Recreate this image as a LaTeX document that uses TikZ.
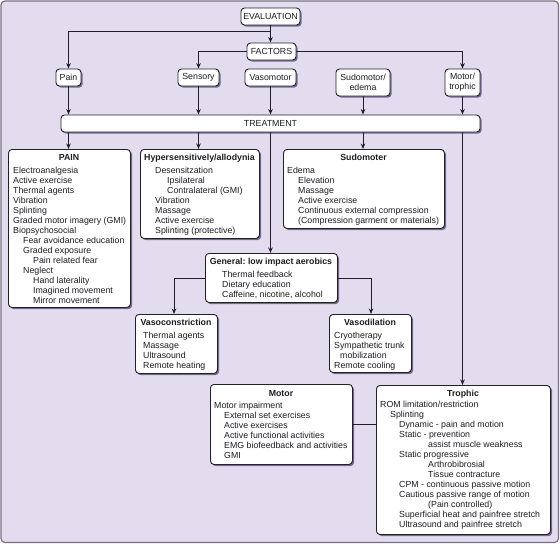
\documentclass[tikz,border=0pt]{standalone}
\usepackage{fontspec}
\setmainfont{Liberation Sans}
\usetikzlibrary{arrows.meta,shadows}
\definecolor{bg}{RGB}{227,220,238}
\definecolor{framecol}{RGB}{120,112,130}
\definecolor{boxline}{RGB}{35,32,40}
\definecolor{shade}{RGB}{118,104,148}
\definecolor{lineclr}{RGB}{35,32,40}
\definecolor{txt}{RGB}{30,28,34}
\tikzset{
  box/.style={draw=boxline, fill=white, line width=0.9pt, rounded corners=3.5pt,
    drop shadow={shadow xshift=1.6pt, shadow yshift=-1.6pt, fill=shade, opacity=1}, inner sep=0pt},
  lbl/.style={box, text=txt, font=\fontsize{8.8}{10}\selectfont, align=center},
  bigbox/.style={box, anchor=north west},
  body/.style={anchor=north west, inner sep=0pt, align=left, text=txt, font=\fontsize{8.8}{10}\selectfont},
  ttl/.style={anchor=base, inner sep=0pt, text=txt, font=\fontsize{8.8}{10}\selectfont\bfseries},
  arr/.style={draw=lineclr, line width=0.9pt, -{Stealth[length=5.5pt,width=4.5pt]}},
  ln/.style={draw=lineclr, line width=0.9pt},
}
\newcommand{\ind}[1]{\hspace*{#1pt}}
\frenchspacing
\begin{document}
\begin{tikzpicture}[x=1pt,y=-1pt]
\useasboundingbox (0,0) rectangle (560,544);
\draw[draw=framecol, fill=bg, line width=1.2pt, rounded corners=4pt] (1,1) rectangle (558.5,542.5);

% top labels
\node[lbl, minimum width=59, minimum height=17] (eval) at (270.5,16.5) {EVALUATION};
\node[lbl, minimum width=49, minimum height=17] (fac) at (271.5,51.5) {FACTORS};
\node[lbl, minimum width=25, minimum height=17] (pain) at (68.5,77.5) {Pain};
\node[lbl, minimum width=41, minimum height=17] (sens) at (198.5,77.5) {Sensory};
\node[lbl, minimum width=51, minimum height=17] (vaso) at (270.5,77.5) {Vasomotor};
\node[lbl, minimum width=54, minimum height=27] (sudo) at (363,82.5) {Sudomotor/\\edema};
\node[lbl, minimum width=35, minimum height=27] (mot) at (462.5,82.5) {Motor/\\trophic};
\node[lbl, minimum width=419, minimum height=17] (treat) at (270.5,123.5) {TREATMENT};

% big boxes
\node[bigbox, minimum width=122, minimum height=158] (painbox) at (8,149) {};
\node[bigbox, minimum width=119, minimum height=89] (hypbox) at (140,149) {};
\node[bigbox, minimum width=161, minimum height=79] (sudbox) at (283,149) {};
\node[bigbox, minimum width=132, minimum height=49] (genbox) at (205,253) {};
\node[bigbox, minimum width=82, minimum height=59] (vcbox) at (135,314) {};
\node[bigbox, minimum width=82, minimum height=58] (vdbox) at (329,314) {};
\node[bigbox, minimum width=142, minimum height=80] (motbox) at (210,384) {};
\node[bigbox, minimum width=174, minimum height=149] (trobox) at (376,385) {};

% titles
\node[ttl] (painttl) at (69,160) {PAIN};
\node[ttl] (hypttl) at (199.5,160) {Hypersensitively/allodynia};
\node[ttl] (sudttl) at (363.5,160) {Sudomoter};
\node[ttl] (genttl) at (271,264) {General: low impact aerobics};
\node[ttl] (vcttl) at (176,325) {Vasoconstriction};
\node[ttl] (vdttl) at (370,325) {Vasodilation};
\node[ttl] (motttl) at (281,396) {Motor};
\node[ttl] (trottl) at (463,396) {Trophic};

% bodies
\node[body] (paintxt) at (13,166) {\strut Electroanalgesia\\
Active exercise\\
Thermal agents\\
Vibration\\
Splinting\\
Graded motor imagery (GMI)\\
Biopsychosocial\\
\ind{10}Fear avoidance education\\
\ind{10}Graded exposure\\
\ind{20}Pain related fear\\
\ind{10}Neglect\\
\ind{20}Hand laterality\\
\ind{20}Imagined movement\\
\ind{20}Mirror movement};

\node[body] (hyptxt) at (155,166) {\strut Desensitzation\\
\ind{12}Ipsilateral\\
\ind{12}Contralateral (GMI)\\
Vibration\\
Massage\\
Active exercise\\
Splinting (protective)};

\node[body] (sudtxt) at (287,166) {\strut Edema\\
\ind{11}Elevation\\
\ind{11}Massage\\
\ind{11}Active exercise\\
\ind{11}Continuous external compression\\
\ind{11}(Compression garment or materials)};

\node[body] (gentxt) at (222,270) {\strut Thermal feedback\\
Dietary education\\
Caffeine, nicotine, alcohol};

\node[body] (vctxt) at (143,331) {\strut Thermal agents\\
Massage\\
Ultrasound\\
Remote heating};

\node[body] (vdtxt) at (334,331) {\strut Cryotherapy\\
Sympathetic trunk\\
\ind{6}mobilization\\
Remote cooling};

\node[body] (mottxt) at (214,401) {\strut Motor impairment\\
\ind{10}External set exercises\\
\ind{10}Active exercises\\
\ind{10}Active functional activities\\
\ind{10}EMG biofeedback and activities\\
\ind{10}GMI};

\node[body] (trotxt) at (380,400) {\strut ROM limitation/restriction\\
\ind{10}Splinting\\
\ind{19}Dynamic - pain and motion\\
\ind{19}Static - prevention\\
\ind{48}assist muscle weakness\\
\ind{19}Static progressive\\
\ind{48}Arthrobibrosial\\
\ind{48}Tissue contracture\\
\ind{19}CPM - continuous passive motion\\
\ind{19}Cautious passive range of motion\\
\ind{48}(Pain controlled)\\
\ind{19}Superficial heat and painfree stretch\\
\ind{19}Ultrasound and painfree stretch};

% connectors
\coordinate (j1) at (270.5,31);
\draw[ln] (eval.south) -- (j1);
\draw[arr] (j1) -- (fac.north -| j1);
\draw[arr] (j1) -| (pain.north);
\draw[arr] (fac.west) -| (sens.north);
\draw[arr] (fac.east) -| (mot.north);

\foreach \n in {pain,sens,vaso,sudo,mot}
  \draw[arr] (\n.south) -- (\n.south |- treat.north);

\draw[arr] (pain.south |- treat.south) -- (pain.south |- painbox.north);
\draw[arr] (sens.south |- treat.south) -- (sens.south |- hypbox.north);
\draw[arr] (sudo.south |- treat.south) -- (sudo.south |- sudbox.north);
\draw[arr] (vaso.south |- treat.south) -- (vaso.south |- genbox.north);
\draw[arr] (mot.south |- treat.south) -- (mot.south |- trobox.north);

\coordinate (vcj) at (174,0);
\coordinate (vdj) at (371,0);
\draw[arr] (genbox.west) -| (vcj |- vcbox.north);
\draw[arr] (genbox.east) -| (vdj |- vdbox.north);

\draw[ln] (motbox.east) -- (motbox.east -| trobox.west);
\end{tikzpicture}
\end{document}
